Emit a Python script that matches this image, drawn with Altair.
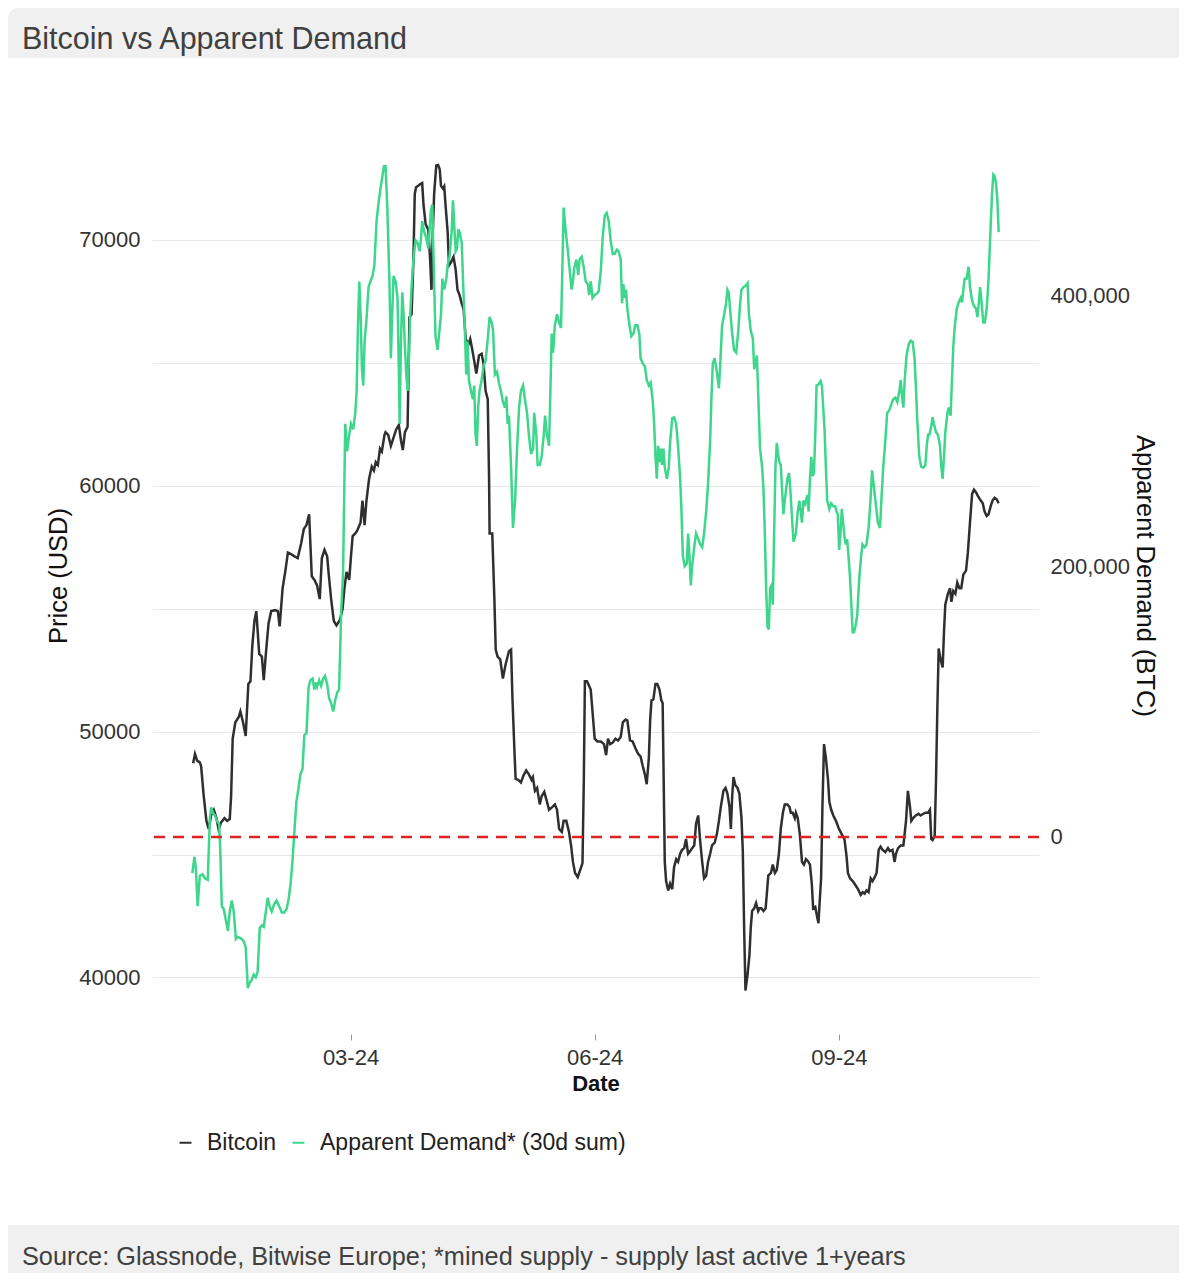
import altair as alt
import pandas as pd

TITLE = "Bitcoin vs Apparent Demand"
SOURCE = "Source: Glassnode, Bitwise Europe; *mined supply - supply last active 1+years"
SERIES = ["Bitcoin", "Apparent Demand* (30d sum)"]
COLORS = ["#2f2f2f", "#3dd68c"]

# (days since 2024-01-01, price in USD)
bitcoin_points = [
    (0.7, 48710), (1.4, 49090), (2.2, 48820), (3.2, 48750), (3.7, 48600), (4.7, 47370), (5.7, 46370),
    (6.6, 46030), (7.45, 46590), (8.5, 46810), (9.5, 46480), (10.3, 46030), (11.2, 46300), (12.5, 46480),
    (13.5, 46370), (14.5, 46440), (15.0, 47370), (15.6, 49710), (16.6, 50380), (17.9, 50600), (18.5, 50820),
    (19.5, 50380), (20.5, 49820), (21.5, 51940), (22.3, 52050), (23.0, 53500), (23.8, 54500), (24.5, 54900),
    (25.6, 53160), (26.6, 53050), (27.3, 52090), (28.1, 53160), (29.1, 54390), (30.1, 54900), (31.6, 54940),
    (32.6, 54900), (33.3, 54280), (34.4, 55830), (35.4, 56500), (36.4, 57280), (37.6, 57220), (38.9, 57130),
    (40.1, 57060), (41.4, 57660), (42.4, 58240), (43.4, 58400), (44.4, 58840), (45.4, 56320), (46.4, 56170),
    (47.4, 55950), (48.4, 55390), (49.2, 57060), (50.2, 57390), (51.2, 57130), (51.7, 56500), (52.7, 55390),
    (53.7, 54500), (54.7, 54320), (56.0, 54540), (57.0, 54990), (57.7, 55830), (58.5, 56500), (59.5, 56170),
    (60.2, 57170), (60.8, 57950), (61.8, 58060), (62.5, 58170), (63.8, 58510), (64.5, 59400), (65.3, 58400),
    (66.0, 59400), (67.0, 60290), (68.0, 60780), (68.8, 60620), (69.5, 60960), (70.3, 60850), (71.1, 61510),
    (71.8, 61400), (72.8, 62070),
    (73.2, 62180), (74.2, 62070), (75.2, 61620), (76.2, 61960), (77.2, 62290), (78.2, 62470), (79.0, 61850),
    (79.7, 61450), (80.5, 62180), (81.5, 62400), (82.2, 66860), (83.0, 66970), (83.7, 69200), (84.2, 71870),
    (84.7, 72140), (85.5, 72200), (86.3, 72270), (87.0, 72310), (87.5, 71420), (88.3, 70640), (89.3, 70420),
    (90.0, 69200), (90.5, 67970), (91.0, 70310), (91.5, 71870), (92.3, 73030), (93.0, 73050), (93.6, 72870),
    (94.1, 72200), (94.8, 72090), (95.3, 72180), (95.8, 71420), (96.6, 70310), (97.1, 68970), (97.8, 69080),
    (98.8, 69310), (99.6, 68800), (100.3, 67970), (101.1, 67750), (101.9, 67410), (102.6, 67190), (103.4, 65970),
    (104.4, 65740), (105.1, 65970), (105.9, 65520), (106.6, 65080), (107.4, 64560), (108.4, 65300), (109.4, 65370),
    (110.1, 64970), (110.9, 63850), (111.7, 63520), (112.2, 60290), (112.4, 58060), (113.4, 58060), (114.2, 55390),
    (114.7, 53340), (115.4, 53050), (116.4, 52940), (117.4, 52160), (118.4, 52720), (119.7, 53270), (120.5, 53340),
    (121.0, 51380), (121.7, 49380), (122.2, 48080), (123.2, 48040), (124.2, 47930), (125.2, 48220), (126.2, 48420),
    (127.2, 48260), (128.2, 48040), (128.7, 48150), (129.5, 47590), (130.3, 47710), (131.3, 47040), (132.0, 47370),
    (133.0, 47550), (134.0, 47150), (134.8, 46820), (136.0, 46930), (137.0, 47040), (137.8, 46820), (138.6, 46040),
    (139.6, 45920), (140.3, 46370), (141.3, 46370), (142.3, 45920), (143.1, 45370), (143.8, 44700), (144.6, 44250),
    (145.6, 44080), (146.3, 44300), (147.4, 44650), (147.9, 48040), (148.3, 52050), (149.1, 52050),
    (150.5, 51710), (152.0, 49710), (153.0, 49600), (154.3, 49600), (155.5, 49490), (156.3, 49040), (157.0, 49710),
    (157.8, 49490), (158.8, 49550), (159.8, 49710), (160.8, 49640), (161.8, 49780), (162.6, 50380), (163.6, 50490),
    (164.3, 50450), (165.3, 49640), (166.3, 49600), (167.3, 49330), (168.3, 49110), (169.3, 48980), (170.1, 48600),
    (170.9, 48260), (171.6, 47860), (172.4, 48930), (172.9, 50490), (173.4, 51270), (174.1, 51310), (174.9, 51940),
    (175.6, 51940), (176.4, 51710), (177.1, 51270), (177.6, 51160), (178.4, 44700), (178.9, 43920), (179.7, 43540),
    (180.4, 43810), (181.2, 43590), (181.9, 44480), (182.7, 44810), (183.4, 44700), (184.2, 45030), (184.9, 45190),
    (185.7, 45260), (186.4, 45630), (187.2, 45030), (188.0, 45140), (188.7, 45260), (189.5, 45370), (190.2, 46260),
    (191.0, 46590), (191.7, 45590), (192.5, 44700), (193.2, 44030), (194.0, 44140), (194.7, 44700), (195.5, 45030),
    (196.2, 45370), (197.2, 45480), (198.0, 45810), (198.8, 46370), (199.5, 46930), (200.5, 47590), (201.3, 47710),
    (202.0, 47480), (202.8, 46930), (203.3, 46040), (203.8, 47370), (204.3, 48150), (205.0, 47820), (205.8, 47710),
    (206.5, 47480), (207.3, 46480), (207.8, 45140), (208.3, 42030), (208.8, 39470), (209.6, 40130), (210.3, 40910),
    (210.8, 42030), (211.3, 42700), (212.1, 42810), (212.8, 43030), (213.6, 42700), (214.1, 42810), (214.8, 42810),
    (215.6, 42700), (216.4, 42810), (216.9, 43470), (217.4, 44140), (218.4, 44250), (219.1, 44590), (219.9, 44250),
    (220.6, 44370), (221.4, 45030), (222.1, 46040), (222.9, 46700), (223.6, 47040), (224.6, 47040), (225.4, 46930),
    (225.9, 46700), (226.6, 46700), (227.4, 46480),
    (227.8, 46700), (228.5, 46480), (229.3, 45810), (230.1, 44700), (230.8, 44590), (231.6, 44810), (232.3, 44740),
    (233.1, 44590), (233.8, 43810), (234.3, 42810), (235.1, 42870), (235.8, 42470), (236.3, 42210), (236.8, 43140),
    (237.3, 44030), (237.8, 46930), (238.4, 49490), (239.1, 48930), (239.9, 48040), (240.4, 47150), (241.1, 46820),
    (241.9, 46590), (242.9, 46370), (243.9, 46080), (244.9, 45860), (246.1, 45630), (246.9, 44920), (247.4, 44250),
    (248.2, 44030), (249.2, 43920), (250.2, 43760), (251.2, 43590), (252.2, 43360), (253.0, 43470), (253.7, 43410),
    (254.4, 43540), (255.2, 43470), (256.0, 44030), (256.7, 43920), (257.5, 44080), (258.2, 44250), (259.0, 45190),
    (259.7, 45320), (260.5, 45190), (261.5, 45100), (262.5, 45260), (263.2, 45140), (264.2, 45190), (265.0, 44700),
    (265.5, 45030), (266.3, 45260), (267.3, 45370), (268.3, 45370), (269.3, 46370), (270.0, 47590), (270.8, 46930),
    (271.3, 46370), (272.0, 46480), (273.0, 46590), (274.0, 46660), (274.8, 46590), (275.5, 46640), (276.6, 46700),
    (277.6, 46700), (278.3, 46820), (278.8, 45630), (279.3, 45590), (280.1, 45770), (280.6, 48040), (281.1, 50940),
    (281.6, 53380), (282.3, 52940), (283.1, 52610), (283.6, 54050), (284.1, 55170), (285.1, 55610), (285.9, 55830),
    (286.4, 55280), (287.1, 55720), (287.9, 55610), (288.6, 56060), (289.4, 55830), (290.1, 55830), (290.9, 56390),
    (291.9, 56550), (292.6, 57280), (293.4, 58510), (294.2, 59670), (294.9, 59840), (295.7, 59730), (296.4, 59580),
    (297.2, 59440), (298.2, 59290), (298.9, 58950), (299.7, 58770), (300.4, 58840), (301.2, 59170), (301.9, 59400),
    (302.7, 59510), (303.5, 59440), (304.2, 59290),
]

# (days since 2024-01-01, apparent demand in BTC)
demand_points = [
    (0.4, -26700), (1.2, -14600), (1.7, -22600), (2.4, -51000), (3.2, -28700), (4.2, -27500), (5.2, -30700),
    (6.2, -31600), (7.0, 13700), (7.5, 21800), (8.2, 17700), (9.0, 15700), (9.7, 11700), (10.5, 9600),
    (11.0, -14600), (11.5, -51000), (12.2, -53000), (13.0, -61100), (13.8, -69200), (14.5, -55000), (15.25, -46900),
    (16.0, -55000), (16.8, -75200), (17.5, -73600), (18.3, -74400), (19.0, -75200), (19.8, -77200), (20.5, -81300),
    (21.3, -111600), (22.0, -107600), (22.8, -105500), (23.5, -101500), (24.3, -103500), (25.0, -99500),
    (25.8, -67100), (26.6, -65100), (27.3, -66300), (28.1, -55000), (28.8, -44900), (29.6, -51800), (30.3, -55000),
    (31.1, -50100), (32.1, -46900), (33.1, -51000), (34.1, -55800), (35.1, -55800), (35.9, -53000), (36.6, -46900),
    (37.4, -34800), (38.1, -18600), (38.9, 5700), (39.6, 25900), (40.4, 36000), (41.1, 46100), (41.9, 50100),
    (42.6, 75200), (43.4, 76400), (44.2, 110800), (44.9, 115700), (45.7, 116900), (46.4, 108800), (46.9, 114000),
    (47.4, 110800), (48.2, 115700), (48.9, 111600), (49.7, 116900), (50.4, 118900), (51.2, 112800), (51.9, 102700),
    (52.7, 98700), (53.5, 92600), (54.2, 100700), (55.0, 106800), (55.7, 108800), (56.5, 167400), (57.2, 195700),
    (58.0, 304900), (58.7, 284700), (59.5, 296800), (60.2, 304900), (61.0, 300900), (61.8, 313000), (62.3, 329200),
    (62.8, 377700), (63.3, 410000), (63.8, 385800), (64.3, 345300), (64.8, 333200), (65.3, 365600), (66.0, 381700),
    (66.8, 406000), (67.5, 410000), (68.3, 414100), (69.0, 422200), (69.8, 454500), (70.6, 468700), (71.3, 478800),
    (72.1, 488900), (72.6, 495000),
    (73.2, 495000), (73.9, 462600), (74.7, 406000), (75.2, 353400), (75.7, 385800), (76.2, 414100), (77.0, 410000),
    (77.7, 397900), (78.2, 345300), (78.5, 304900), (79.0, 365600), (79.5, 402000), (80.0, 385800), (80.5, 361500),
    (81.0, 341300), (81.5, 329200), (82.0, 353400), (82.5, 385800), (83.0, 406000), (83.7, 426200), (84.5, 440400),
    (85.3, 438400), (86.0, 432300), (86.5, 440400), (87.0, 454500), (87.8, 446400), (88.5, 442400), (89.3, 434300),
    (89.8, 448500), (90.3, 462600), (90.8, 466700), (91.3, 426200), (92.0, 369600), (92.8, 359500), (93.3, 369600),
    (94.1, 385800), (94.6, 412100), (95.3, 404000), (96.1, 412100), (96.6, 422200), (97.3, 428300), (98.1, 446400),
    (98.6, 469900), (99.1, 450500), (99.6, 432300), (100.1, 434300), (100.6, 448500), (101.1, 446400),
    (101.9, 438400), (102.6, 399900), (103.1, 373700), (103.6, 341300), (104.1, 365600), (104.6, 337300),
    (105.4, 329200), (106.1, 323100), (106.6, 333200), (107.1, 296800), (107.6, 288700), (108.1, 317000),
    (108.6, 329200), (109.4, 337300), (110.1, 347400), (110.9, 351400), (111.7, 367600), (112.4, 383800),
    (113.2, 379700), (113.7, 373700), (114.4, 341300), (115.2, 343300), (115.9, 335300), (116.7, 329200),
    (117.4, 321100), (118.2, 317000), (118.7, 325100), (119.2, 304900), (119.7, 311000), (120.5, 272600),
    (121.2, 228100), (122.0, 248300), (122.7, 284700), (123.5, 317000), (124.2, 329200), (125.0, 333200),
    (125.7, 323100), (126.5, 313000), (127.2, 296800), (128.0, 282700), (128.8, 286700), (129.2, 313000),
    (130.0, 296800), (130.5, 274600), (131.3, 274600), (132.0, 280600), (132.8, 296800), (133.3, 311000),
    (134.0, 296800), (134.8, 288700), (135.3, 329200), (135.8, 371600), (136.3, 357500), (137.0, 377700),
    (137.8, 385800), (138.6, 379700), (139.3, 375700), (139.8, 418100), (140.3, 464600), (141.1, 446400),
    (141.8, 434300), (142.6, 418100), (143.3, 404000), (143.8, 410000), (144.3, 420200), (145.1, 426200),
    (145.8, 414900), (146.3, 426200), (147.1, 428300), (147.9, 420200), (148.6, 410000), (149.4, 408000),
    (149.9, 400000),
    (150.5, 410000), (151.2, 397900), (152.0, 400000), (152.8, 401000), (153.5, 402800), (154.3, 418100),
    (155.0, 442400), (155.8, 458600), (156.5, 460600), (157.3, 454500), (158.0, 440400), (158.8, 430300),
    (159.5, 430300), (160.3, 433400), (161.0, 432300), (161.8, 426200), (162.3, 394000), (162.8, 408000),
    (163.3, 397900), (163.8, 404000), (164.3, 389800), (165.1, 377700), (165.8, 369600), (166.6, 371600),
    (167.3, 377700), (168.1, 377700), (168.8, 371600), (169.3, 353400), (170.1, 349400), (170.9, 347400),
    (171.6, 337300), (172.4, 333200), (173.1, 335300), (173.9, 321100), (174.4, 304900), (174.9, 280600),
    (175.4, 264400), (175.9, 288700), (176.4, 276600), (176.9, 286700), (177.4, 274600), (177.9, 286700),
    (178.4, 272600), (179.2, 264400), (179.9, 272600), (180.4, 290800), (181.2, 309000), (181.9, 309800),
    (182.7, 304900), (183.4, 288700), (184.2, 264400), (184.7, 240200), (185.2, 207900), (185.9, 199800),
    (186.7, 201800), (187.2, 224000), (187.7, 207900), (188.2, 185600), (188.7, 199800), (189.5, 213900),
    (190.2, 224000), (191.0, 220000), (191.7, 216000), (192.5, 213900), (193.2, 224000), (194.0, 240200),
    (194.7, 260400), (195.5, 292800), (196.0, 325100), (196.5, 349400), (197.2, 353400), (198.0, 343300),
    (198.8, 331200), (199.3, 349400), (200.0, 377700), (200.8, 385800), (201.5, 394000), (202.0, 404000),
    (202.5, 401900), (203.0, 389800), (203.8, 371600), (204.5, 359500), (205.3, 357500), (206.1, 373700),
    (206.8, 394000), (207.3, 404000), (208.1, 406000), (208.8, 406800), (209.6, 408800), (210.1, 385800),
    (210.8, 373700), (211.6, 367600), (212.1, 345300), (212.6, 349400), (213.1, 355400), (213.6, 327100),
    (214.3, 286700), (215.1, 272600), (215.6, 256400), (216.1, 224000), (216.6, 183600), (217.1, 155200),
    (217.6, 153200), (218.1, 183600), (218.6, 185600), (219.1, 171400), (219.6, 224000), (220.1, 272600),
    (220.6, 290800), (221.1, 282700), (221.6, 276600), (222.1, 274600), (222.6, 256400), (223.1, 238200),
    (223.6, 248300), (224.1, 256400), (224.6, 264400), (225.2, 268500), (225.7, 256400), (226.2, 240200),
    (226.9, 217900),
    (227.8, 224000), (228.5, 240200), (229.1, 248300), (229.6, 240200), (230.1, 232000), (230.6, 248300),
    (231.1, 244200), (231.6, 248300), (232.1, 252300), (232.6, 240200), (233.1, 264400), (233.6, 280600),
    (234.1, 266400), (234.6, 268500), (235.1, 296800), (235.6, 333200), (236.3, 334000), (237.1, 336500),
    (237.6, 333200), (238.1, 317000), (238.6, 300800), (239.1, 272600), (239.6, 248300), (240.4, 242100),
    (241.1, 246200), (241.9, 244200), (242.6, 244200), (243.1, 240200), (243.6, 238200), (244.1, 211900),
    (244.6, 224000), (245.1, 242100), (245.6, 232000), (246.1, 221900), (246.6, 215900), (247.1, 219900),
    (247.6, 207900), (248.2, 191600), (248.7, 171400), (249.2, 151200), (249.7, 151200), (250.2, 155200),
    (250.9, 163300), (251.7, 191600), (252.4, 207900), (252.9, 215900), (253.7, 213900), (254.4, 215900),
    (255.2, 228100), (255.9, 248300), (256.5, 270600), (257.2, 258400), (258.0, 244200), (258.7, 232000),
    (259.5, 228100), (260.0, 248300), (260.7, 272600), (261.5, 292800), (262.2, 313000), (263.0, 315000),
    (263.7, 319100), (264.5, 323100), (265.3, 324300), (266.0, 321100), (266.8, 329200), (267.3, 337300),
    (267.8, 325100), (268.3, 317000), (268.8, 337300), (269.5, 355400), (270.3, 363500), (271.0, 366300),
    (271.8, 365500), (272.5, 353400), (273.0, 333200), (273.5, 309000), (274.3, 280600), (275.0, 273300),
    (275.8, 272600), (276.6, 274600), (277.1, 288700), (277.6, 296800), (278.1, 296800), (278.8, 302900),
    (279.3, 309800), (279.8, 304900), (280.6, 298700), (281.3, 296800), (282.1, 288700), (282.6, 272600),
    (283.1, 264400), (283.6, 280600), (284.1, 298700), (284.9, 313000), (285.4, 317000), (286.1, 311000),
    (286.6, 337300), (287.1, 361500), (287.6, 375700), (288.4, 389800), (289.1, 394600), (289.9, 397900),
    (290.4, 394600), (290.9, 403900), (291.4, 412000), (292.1, 412000), (292.9, 420900), (293.4, 405900),
    (294.2, 395800), (294.9, 391800), (295.7, 389800), (296.2, 383700), (296.7, 393800), (297.2, 405900),
    (297.7, 395800), (298.4, 379700), (299.0, 379700), (299.7, 389800), (300.4, 412000), (301.0, 442400),
    (301.7, 474700), (302.2, 488900), (302.7, 487700), (303.2, 482800), (303.7, 470600), (304.2, 446400),
]

zero_line = [0]
price_ticks = [40000, 45000, 50000, 55000, 60000, 65000, 70000]
demand_ticks = [0, 200000, 400000]

start = pd.Timestamp("2024-01-01")


def frame(points, name):
    d = pd.DataFrame(points, columns=["day", "value"])
    d["date"] = start + pd.to_timedelta(d["day"], unit="D")
    d["series"] = name
    return d[["date", "value", "series"]]


btc_df = frame(bitcoin_points, SERIES[0])
dem_df = frame(demand_points, SERIES[1])
zero_df = pd.DataFrame({"value": zero_line})

FONT = "Liberation Sans"
W, H = 887, 917
PAD = {"left": 144, "top": 109, "right": 140, "bottom": 239}
LINE_W = 2.5

x_enc = alt.X(
    "date:T",
    scale=alt.Scale(
        domain=[
            alt.DateTime(year=2023, month=12, date=17, hours=4, minutes=48),
            alt.DateTime(year=2024, month=11, date=15, hours=9, minutes=36),
        ],
        nice=False,
    ),
    axis=alt.Axis(
        values=[
            alt.DateTime(year=2024, month=3, date=1),
            alt.DateTime(year=2024, month=6, date=1),
            alt.DateTime(year=2024, month=9, date=1),
        ],
        format="%m-%y",
        title="Date",
        grid=False,
        domain=False,
        ticks=True,
        tickSize=6,
        tickColor="#9a9a9a",
        tickWidth=1,
        labelFontSize=22,
        labelColor="#333333",
        labelPadding=7,
        titleFontSize=22,
        titleFontWeight="bold",
        titleColor="#111111",
        titlePadding=5,
    ),
)

color_enc = alt.Color(
    "series:N",
    scale=alt.Scale(domain=SERIES, range=COLORS),
    title=None,
    legend=alt.Legend(
        orient="none",
        legendX=22,
        legendY=1014,
        direction="horizontal",
        symbolType="stroke",
        symbolSize=144,
        symbolStrokeWidth=2,
        labelFontSize=23,
        labelColor="#222222",
        labelOffset=10,
        labelLimit=500,
        columnPadding=10,
    ),
)

black = alt.Chart(btc_df).mark_line(strokeWidth=LINE_W).encode(
    x=x_enc,
    y=alt.Y(
        "value:Q",
        scale=alt.Scale(domain=[37700, 75000], nice=False, zero=False),
        axis=alt.Axis(
            orient="left",
            values=price_ticks,
            format="d",
            labelExpr="datum.value % 10000 === 0 ? datum.label : ''",
            title="Price (USD)",
            ticks=False,
            tickSize=0,
            domain=False,
            grid=True,
            gridColor="#e8e8e8",
            gridWidth=1,
            labelFontSize=22,
            labelColor="#333333",
            labelPadding=12,
            titleFontSize=25.5,
            titleFontWeight="normal",
            titleColor="#111111",
            titlePadding=7,
        ),
    ),
    color=color_enc,
)

demand_scale = alt.Scale(domain=[-145400, 531400], nice=False, zero=False)


def demand_axis():
    return alt.Axis(
        orient="right",
        values=demand_ticks,
        format=",d",
        title="Apparent Demand (BTC)",
        titleAngle=90,
        ticks=False,
        tickSize=0,
        domain=False,
        grid=False,
        labelFontSize=22,
        labelColor="#333333",
        labelPadding=11,
        titleFontSize=25.5,
        titleFontWeight="normal",
        titleColor="#111111",
        titlePadding=2,
    )


green = alt.Chart(dem_df).mark_line(strokeWidth=LINE_W).encode(
    x=x_enc,
    y=alt.Y("value:Q", scale=demand_scale, axis=demand_axis()),
    color=color_enc,
)
zero_rule = alt.Chart(zero_df).mark_rule(color="#dd2222", strokeWidth=2.4, strokeDash=[11, 8]).encode(
    y=alt.Y("value:Q", scale=demand_scale, axis=demand_axis())
)
demand_layer = alt.layer(green, zero_rule)

one = pd.DataFrame({"k": [0]})
top_band = alt.Chart(one).mark_rect(color="#f0f0f0", cornerRadiusTopLeft=10).encode(
    x=alt.value(-144), x2=alt.value(W + PAD["right"]), y=alt.value(-109), y2=alt.value(-59)
)
bottom_band = alt.Chart(one).mark_rect(color="#f0f0f0").encode(
    x=alt.value(-144), x2=alt.value(W + PAD["right"]), y=alt.value(1108), y2=alt.value(H + PAD["bottom"])
)
title_text = alt.Chart(pd.DataFrame({"t": [TITLE]})).mark_text(
    align="left", baseline="middle", fontSize=30.5, font=FONT, color="#404040"
).encode(x=alt.value(-130), y=alt.value(-77), text="t:N")
source_text = alt.Chart(pd.DataFrame({"t": [SOURCE]})).mark_text(
    align="left", baseline="middle", fontSize=25.3, font=FONT, color="#404040"
).encode(x=alt.value(-130), y=alt.value(1140), text="t:N")

chart = (
    alt.layer(top_band, bottom_band, black, demand_layer, title_text, source_text)
    .resolve_scale(y="independent")
    .properties(width=W, height=H, padding=PAD, autosize=alt.AutoSizeParams(type="none"), background="white")
    .configure(font=FONT)
    .configure_view(strokeWidth=0)
)

chart.save("out.html", embed_options={"renderer": "svg", "actions": False})
